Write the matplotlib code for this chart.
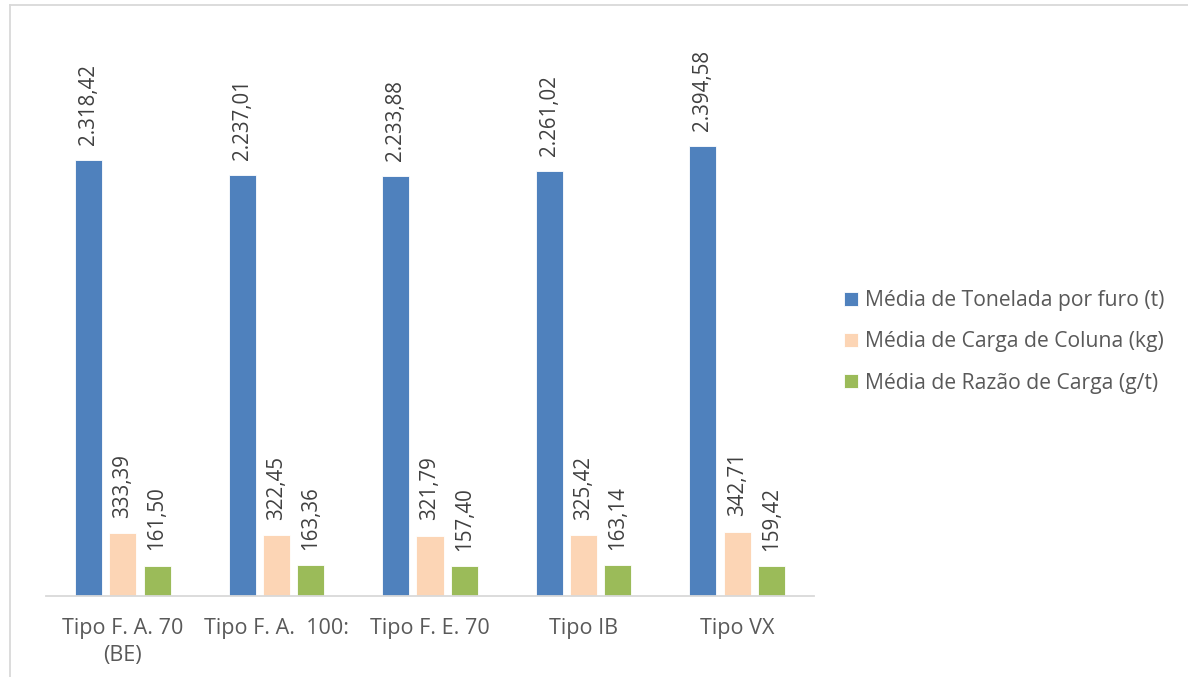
import matplotlib
matplotlib.use("Agg")
import matplotlib.pyplot as plt
from matplotlib.lines import Line2D
import numpy as np

# Médias por tipo de explosivo
categorias = ["Tipo F. A. 70\n(BE)", "Tipo F. A.  100:", "Tipo F. E. 70", "Tipo IB", "Tipo VX"]
tonelada_por_furo = [2318.42, 2237.01, 2233.88, 2261.02, 2394.58]
carga_coluna = [333.39, 322.45, 321.79, 325.42, 342.71]
razao_carga = [161.50, 163.36, 157.40, 163.14, 159.42]

series = [
    ("Média de Tonelada por furo (t)", tonelada_por_furo, "#4F81BD"),
    ("Média de Carga de Coluna (kg)", carga_coluna, "#FCD5B5"),
    ("Média de Razão de Carga (g/t)", razao_carga, "#9BBB59"),
]

plt.rcParams["font.family"] = ["Open Sans", "DejaVu Sans"]
texto = "#404040"


def fmt_br(v):
    # 2318.42 -> "2.318,42"
    s = f"{v:,.2f}"
    return s.replace(",", "X").replace(".", ",").replace("X", ".")


fig = plt.figure(figsize=(11.88, 6.77), dpi=100)
W, H = 1188, 677
ax = fig.add_axes([46 / W, 81 / H, 768 / W, 564 / H])

x = np.arange(len(categorias))
largura = 0.176
passo = 0.223

for i, (nome, vals, cor) in enumerate(series):
    pos = x + (i - 1) * passo
    barras = ax.bar(pos, vals, largura, color=cor, label=nome, edgecolor="white", linewidth=0.6)
    for b, v in zip(barras, vals):
        ax.annotate(fmt_br(v), (b.get_x() + b.get_width() / 2, v),
                    xytext=(0, 11), textcoords="offset points",
                    rotation=90, ha="center", va="bottom",
                    fontsize=14.8, color=texto)

ax.set_xlim(-0.5, len(categorias) - 0.5)
ax.set_ylim(0, 3000)
ax.set_xticks(x)
ax.set_xticklabels(categorias, fontsize=15.5, color="#595959", linespacing=1.35)
ax.tick_params(axis="x", length=0, pad=16)
ax.set_yticks([])
for lado in ["top", "right", "left"]:
    ax.spines[lado].set_visible(False)
ax.spines["bottom"].set_color("#D9D9D9")
ax.spines["bottom"].set_linewidth(1.3)

leg = fig.legend(loc="center left", bbox_to_anchor=(825 / W, 1 - 342 / H),
                 frameon=False, fontsize=15.2, handlelength=0.65, handleheight=0.65,
                 handletextpad=0.35, labelspacing=0.95)
for t in leg.get_texts():
    t.set_color("#595959")

# moldura do gráfico
fig.add_artist(Line2D([10 / W, 1], [1 - 5 / H, 1 - 5 / H], color="#D9D9D9", lw=1.3))
fig.add_artist(Line2D([10 / W, 10 / W], [0, 1 - 5 / H], color="#D9D9D9", lw=1.3))

fig.savefig("out.png", dpi=100)
